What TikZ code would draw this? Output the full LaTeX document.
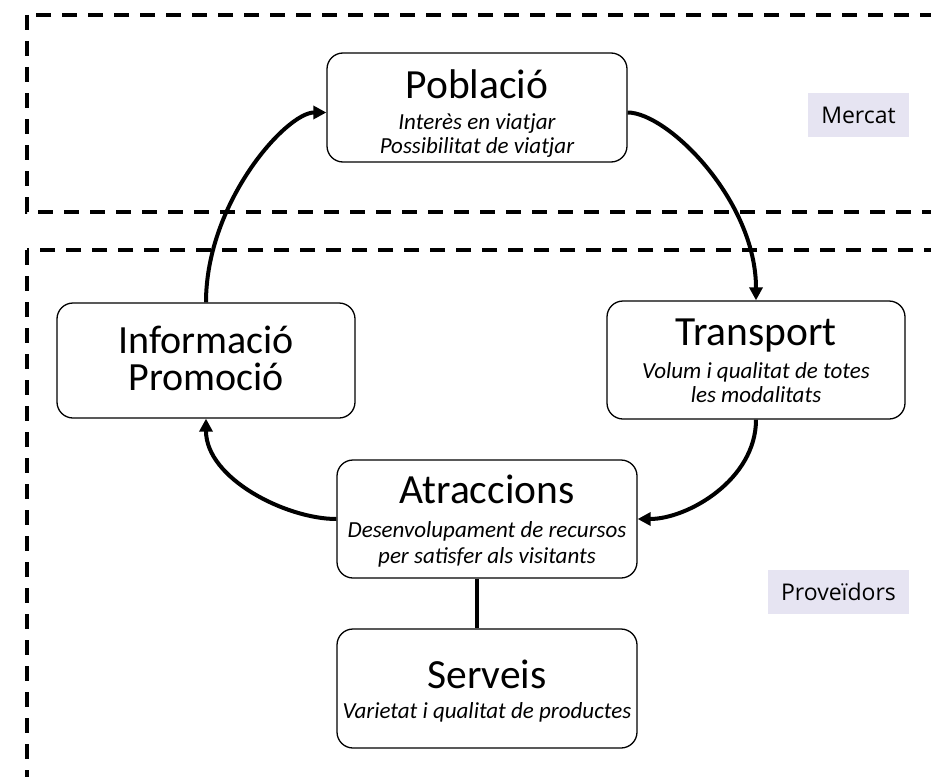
\documentclass[tikz,border=0pt]{standalone}
\usepackage{fontspec}
\setmainfont{Carlito}
\newfontfamily\tagfont{Open Sans}
\usetikzlibrary{arrows.meta,calc}

\definecolor{tagfill}{RGB}{230,228,242}

\newcommand\ttltxt{\fontsize{41.5}{37}\selectfont\upshape}

\begin{document}
\begin{tikzpicture}[x=1pt,y=-1pt,
  cluster/.style={line width=4pt, dash pattern=on 15pt off 11pt},
  box/.style={draw, line width=1.3pt, rounded corners=16pt, inner sep=0pt,
    minimum width=300pt, minimum height=118pt},
  txt/.style={align=center, anchor=base, inner sep=0pt,
    font=\fontsize{23}{24}\selectfont\itshape},
  bigtxt/.style={align=center, anchor=base, inner sep=0pt,
    font=\fontsize{40}{37}\selectfont},
  flow/.style={line width=4pt, -{Triangle[length=13pt,width=13pt]}},
  link/.style={line width=4pt},
  tag/.style={fill=tagfill, inner xsep=13pt, inner ysep=0pt,
    minimum height=44pt, font=\tagfont\fontsize{23}{28}\selectfont}
]
\useasboundingbox (0,0) rectangle (931,776);
\clip (0,0) rectangle (931,776);

% market and supplier regions
\draw[cluster] (27,15) rectangle (960,212);
\draw[cluster] (27,250) rectangle (960,800);

% boxes
\node[box, minimum height=109pt] (pob) at (477,107.5) {};
\node[box, minimum width=298pt, minimum height=115pt] (info) at (206,360.5) {};
\node[box, minimum width=298pt] (trans) at (756,360) {};
\node[box] (atr) at (487,519) {};
\node[box, minimum height=119pt] (serv) at (487,688.5) {};

% box texts (anchored at the baseline of their last line)
\node[txt] (pobt) at (477,153) {{\ttltxt Població}\\[7pt]Interès en viatjar\\Possibilitat de viatjar};
\node[bigtxt] (infot) at (206,390) {Informació\\Promoció};
\node[txt] (transt) at (756,402) {{\ttltxt Transport}\\[9pt]Volum i qualitat de totes\\les modalitats};
\node[txt] (atrt) at (487,563) {{\ttltxt Atraccions}\\[10pt]Desenvolupament de recursos\\[2pt]per satisfer als visitants};
\node[txt] (servt) at (487,718) {{\ttltxt Serveis}\\[6pt]Varietat i qualitat de productes};

% region tags
\node[tag] (mercat) at (858.5,115) {Mercat};
\node[tag] (prov) at (838.5,591.5) {Proveïdors};

% cycle
\draw[flow] (info.north) .. controls +(0,-100) and +(-40,0) .. ($(pob.west)+(0,5)$);
\draw[flow] ($(pob.east)+(0,5)$) .. controls +(40,0) and +(0,-100) .. (trans.north);
\draw[flow] (trans.south) .. controls +(0,60) and +(50,0) .. (atr.east);
\draw[flow] (atr.west) .. controls +(-50,0) and +(0,60) .. (info.south);
\draw[link] ($(atr.south)+(-10,0)$) -- ($(serv.north)+(-10,0)$);
\end{tikzpicture}
\end{document}
